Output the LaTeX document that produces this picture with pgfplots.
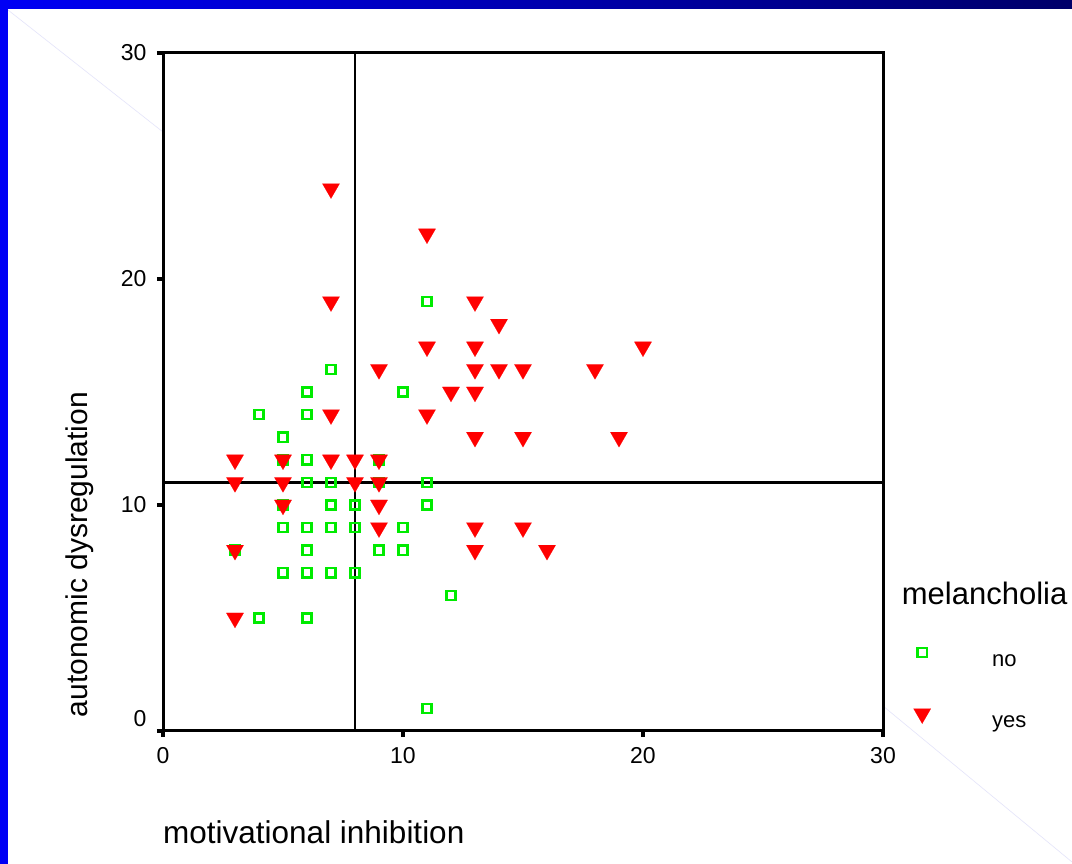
\documentclass[border=0pt]{standalone}
\usepackage{fontspec}
\setmainfont{Liberation Sans}
\usepackage{pgfplots}
\usepackage{pgfplotstable}
\pgfplotsset{compat=1.18}

\definecolor{spssgreen}{RGB}{0,235,0}
\definecolor{spssred}{RGB}{255,0,0}
\definecolor{slideblue}{RGB}{0,0,245}
\definecolor{slidenavy}{RGB}{0,0,105}
\definecolor{faint}{RGB}{228,228,250}

% melancholia = no
\pgfplotstableread{
x y
4 14
5 13
6 15
6 14
7 16
10 15
11 19
5 12
6 12
9 12
6 11
7 11
9 11
11 11
5 10
7 10
8 10
11 10
5 9
6 9
7 9
8 9
10 9
3 8
6 8
9 8
10 8
5 7
6 7
7 7
8 7
12 6
4 5
6 5
11 1
}\nodata

% melancholia = yes
\pgfplotstableread{
x y
7 24
11 22
7 19
13 19
14 18
11 17
13 17
20 17
9 16
13 16
14 16
15 16
18 16
12 15
13 15
7 14
11 14
13 13
15 13
19 13
3 12
5 12
7 12
8 12
9 12
3 11
5 11
8 11
9 11
5 10
9 10
9 9
13 9
15 9
3 8
13 8
16 8
3 5
}\yesdata

\begin{document}
\begin{tikzpicture}[x=1pt,y=1pt]
\useasboundingbox (0,0) rectangle (1072,864);
\fill[white] (0,0) rectangle (1072,864);
% slide frame
\draw[faint, line width=0.6pt] (8,854) -- (163,732);
\draw[faint, line width=0.6pt] (883,158) -- (1072,2);
\fill[left color=slideblue, right color=slidenavy] (0,855) rectangle (1072,864);
\fill[slideblue] (0,0) rectangle (8,864);

\begin{axis}[
    at={(163pt,133pt)}, anchor=south west,
    scale only axis,
    width=720pt, height=678pt,
    xmin=0, xmax=30, ymin=0, ymax=30,
    xtick={0,10,20,30}, ytick={0,10,20,30},
    yticklabels={\raisebox{13pt}[16.5pt][0pt]{0},10,20,30},
    xtick pos=bottom, ytick pos=left,
    tick align=outside,
    major tick length=6pt,
    tick style={line width=3.5pt, black},
    axis line style={line width=3pt},
    axis background/.style={fill=white},
    /pgf/number format/assume math mode=true,
    ticklabel style={font=\fontsize{23}{28}\selectfont},
    yticklabel style={xshift=-7pt},
    xticklabel style={yshift=-7pt},
    xlabel={motivational inhibition},
    ylabel={autonomic dysregulation},
    xlabel style={font=\fontsize{31.5}{36}\selectfont, at={(axis description cs:0,-0.149)}, anchor=west, inner sep=0pt},
    ylabel style={font=\fontsize{30}{36}\selectfont, at={(axis description cs:-0.115,0.02)}, anchor=west, inner sep=0pt},
    legend style={at={(1.0375,0.135)}, anchor=north west, draw=none, fill=none,
        inner sep=0pt, row sep=19pt, font=\fontsize{22}{26}\selectfont},
    legend cell align=left,
    legend image code/.code={
        \draw[#1] plot coordinates {(0pt,9pt)};
        \path[draw=none, fill=none] (-12pt,-20pt) rectangle (68pt,22pt);
    },
    clip=false,
]
\addplot[only marks, mark=square, mark size=4.6pt,
    mark options={draw=spssgreen, line width=2.4pt}]
    table[x=x, y=y] {\nodata};
\addlegendentry{no}
\addplot[only marks, mark=triangle*, mark size=10pt,
    mark options={rotate=180, fill=spssred, draw=spssred, line width=0.1pt}]
    table[x=x, y=y] {\yesdata};
\addlegendentry{yes}
% reference lines
\addplot[black, line width=2.6pt, forget plot] coordinates {(8,0) (8,30)};
\addplot[black, line width=2.6pt, forget plot] coordinates {(0,11) (30,11)};
\node[anchor=west, inner sep=0pt, font=\fontsize{31}{36}\selectfont]
    at (rel axis cs:1.026,0.2035) {melancholia};
\end{axis}
\end{tikzpicture}
\end{document}
